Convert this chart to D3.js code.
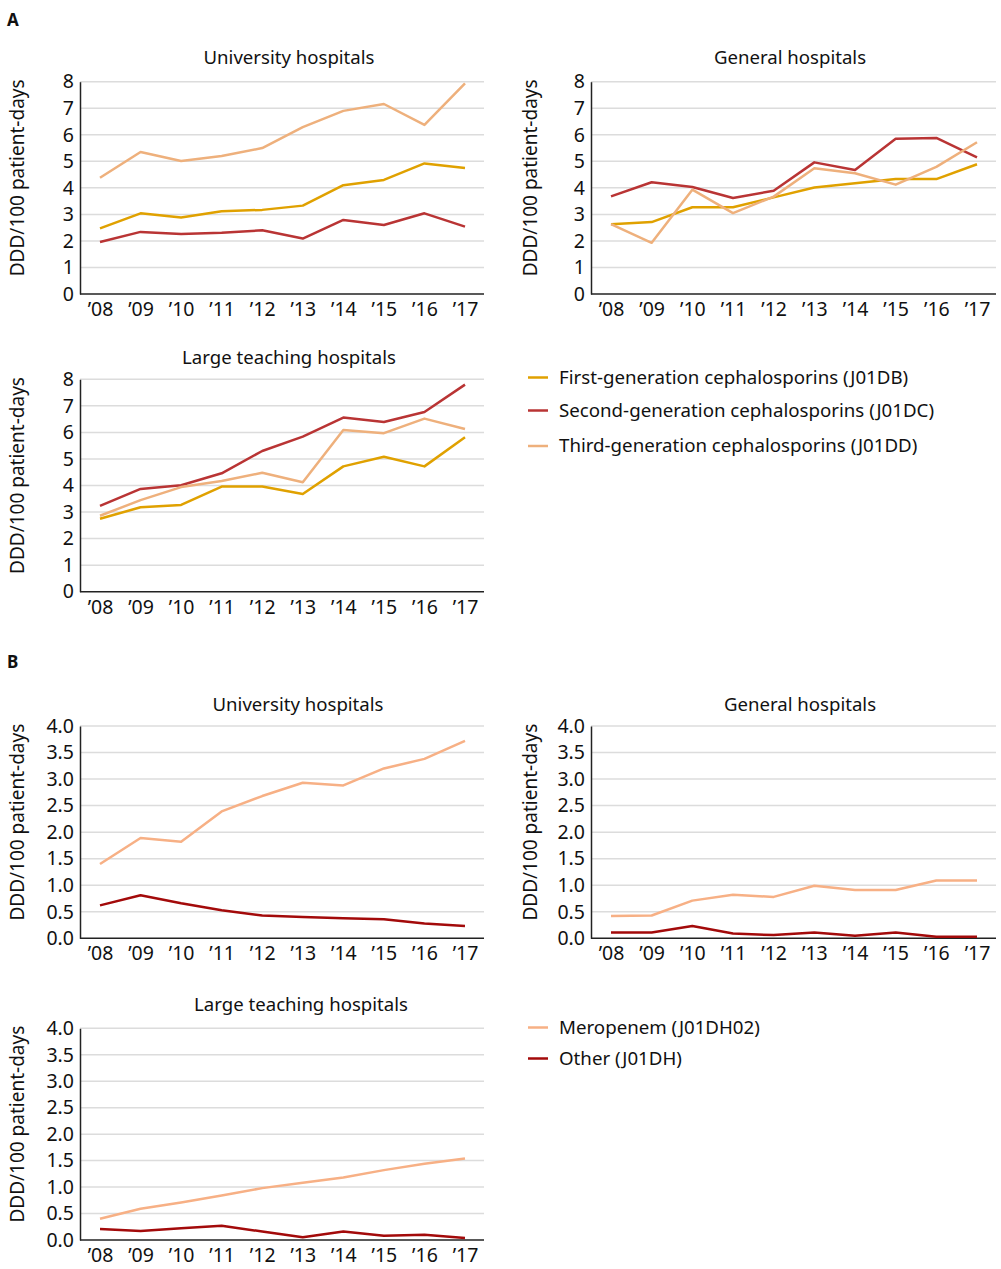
<!DOCTYPE html>
<html><head><meta charset="utf-8">
<script src="https://cdn.jsdelivr.net/npm/d3@7"></script>
<style>body{margin:0;background:#fff}svg{display:block}text{font-family:"Noto Sans",sans-serif;fill:#111}</style>
</head><body><div id="chart"></div>
<script>
const years = ["’08","’09","’10","’11","’12","’13","’14","’15","’16","’17"];
const ceph = ["First-generation cephalosporins (J01DB)","Second-generation cephalosporins (J01DC)","Third-generation cephalosporins (J01DD)"];
const carba = ["Meropenem (J01DH02)","Other (J01DH)"];
const titles = ["University hospitals","General hospitals","Large teaching hospitals"];
const yLabel = "DDD/100 patient-days";

// Section A
const aUnivFirst  = [2.47,3.04,2.88,3.12,3.17,3.33,4.10,4.30,4.92,4.75];
const aUnivSecond = [1.96,2.34,2.26,2.31,2.40,2.09,2.79,2.60,3.04,2.54];
const aUnivThird  = [4.38,5.35,5.01,5.20,5.50,6.29,6.90,7.16,6.37,7.94];
const aGenFirst   = [2.63,2.71,3.27,3.27,3.64,4.01,4.17,4.33,4.33,4.89];
const aGenSecond  = [3.68,4.21,4.03,3.62,3.89,4.96,4.67,5.85,5.88,5.15];
const aGenThird   = [2.63,1.93,3.93,3.05,3.67,4.74,4.55,4.12,4.79,5.72];
const aLargeFirst = [2.75,3.18,3.27,3.96,3.96,3.68,4.72,5.08,4.72,5.82];
const aLargeSecond= [3.23,3.87,4.01,4.46,5.30,5.84,6.56,6.39,6.77,7.80];
const aLargeThird = [2.86,3.45,3.94,4.17,4.48,4.12,6.09,5.97,6.52,6.13];
const aTicks = [0,1,2,3,4,5,6,7,8];

// Section B
const bUnivMero   = [1.40,1.89,1.82,2.39,2.68,2.93,2.88,3.20,3.38,3.72];
const bUnivOther  = [0.62,0.81,0.66,0.53,0.43,0.40,0.38,0.36,0.28,0.23];
const bGenMero    = [0.42,0.43,0.71,0.82,0.78,0.99,0.91,0.91,1.09,1.09];
const bGenOther   = [0.11,0.11,0.23,0.09,0.06,0.11,0.05,0.11,0.03,0.03];
const bLargeMero  = [0.40,0.59,0.71,0.84,0.98,1.08,1.18,1.32,1.44,1.54];
const bLargeOther = [0.21,0.17,0.22,0.27,0.16,0.05,0.16,0.08,0.10,0.04];
const bTicks = [0,0.5,1,1.5,2,2.5,3,3.5,4];

const cephColors = ["#e0a100","#b93434","#eeb07c"];
const carbaColors = ["#f7b085","#a30a0a"];

const W = 1001, H = 1269;
const svg = d3.select("#chart").append("svg").attr("width", W).attr("height", H);

const panels = [
  {title:titles[0], x0:80, x1:484, top:81.7, bot:294, tx:289, ty:64, series:[aUnivFirst,aUnivSecond,aUnivThird], colors:cephColors, ticks:aTicks, max:8, fmt:d3.format("d"), ylx:24},
  {title:titles[1], x0:591, x1:996, top:81.7, bot:294, tx:790, ty:64, series:[aGenFirst,aGenSecond,aGenThird], colors:cephColors, ticks:aTicks, max:8, fmt:d3.format("d"), ylx:537},
  {title:titles[2], x0:80, x1:484, top:379.3, bot:591.7, tx:289, ty:364, series:[aLargeFirst,aLargeSecond,aLargeThird], colors:cephColors, ticks:aTicks, max:8, fmt:d3.format("d"), ylx:24},
  {title:titles[0], x0:80, x1:484, top:726, bot:938.3, tx:298, ty:711, series:[bUnivMero,bUnivOther], colors:carbaColors, ticks:bTicks, max:4, fmt:d3.format(".1f"), ylx:24},
  {title:titles[1], x0:591, x1:996, top:726, bot:938.3, tx:800, ty:711, series:[bGenMero,bGenOther], colors:carbaColors, ticks:bTicks, max:4, fmt:d3.format(".1f"), ylx:537},
  {title:titles[2], x0:80, x1:484, top:1028.3, bot:1240, tx:301, ty:1011, series:[bLargeMero,bLargeOther], colors:carbaColors, ticks:bTicks, max:4, fmt:d3.format(".1f"), ylx:24}
];

panels.forEach(p => {
  const g = svg.append("g");
  const x = d3.scalePoint().domain(years).range([p.x0 + 20, p.x1 - 19]);
  const y = d3.scaleLinear().domain([0, p.max]).range([p.bot, p.top]);
  // gridlines
  g.selectAll("line.grid").data(p.ticks.filter(t => t > 0)).join("line")
    .attr("x1", p.x0).attr("x2", p.x1).attr("y1", d => y(d)).attr("y2", d => y(d))
    .attr("stroke", "#dcdcdc").attr("stroke-width", 1.5);
  // y axis
  const ya = g.append("g").attr("transform", `translate(${p.x0},0)`)
    .call(d3.axisLeft(y).tickValues(p.ticks).tickFormat(p.fmt).tickSize(0).tickPadding(6));
  ya.select(".domain").attr("stroke", "#222").attr("stroke-width", 1.5);
  ya.selectAll("text").attr("font-size", 19.5).attr("font-family", "Noto Sans").attr("fill", "#111");
  // x axis
  const xa = g.append("g").attr("transform", `translate(0,${p.bot})`)
    .call(d3.axisBottom(x).tickSize(0).tickPadding(8));
  xa.select(".domain").attr("d", `M${p.x0},0H${p.x1}`).attr("stroke", "#222").attr("stroke-width", 1.5);
  xa.selectAll("text").attr("font-size", 19.5).attr("font-family", "Noto Sans").attr("fill", "#111");
  // lines
  const line = d3.line().x((d, i) => x(years[i])).y(d => y(d));
  p.series.forEach((s, i) => {
    g.append("path").datum(s).attr("d", line).attr("fill", "none")
      .attr("stroke", p.colors[i]).attr("stroke-width", 2.5).attr("stroke-linejoin", "round");
  });
  // title
  g.append("text").attr("x", p.tx).attr("y", p.ty).attr("text-anchor", "middle")
    .attr("font-size", 18.6).text(p.title);
  // y label
  g.append("text").attr("transform", `translate(${p.ylx},${(p.top + p.bot) / 2 - 10}) rotate(-90)`)
    .attr("text-anchor", "middle").attr("font-size", 19).text(yLabel);
});

// Section letters
svg.append("text").attr("x", 7).attr("y", 26).attr("font-size", 17).attr("font-weight", "bold").text("A");
svg.append("text").attr("x", 7).attr("y", 668).attr("font-size", 17).attr("font-weight", "bold").text("B");

// Legends
function legend(items, colors, x, ys) {
  items.forEach((t, i) => {
    svg.append("line").attr("x1", x).attr("x2", x + 20).attr("y1", ys[i]).attr("y2", ys[i])
      .attr("stroke", colors[i]).attr("stroke-width", 2.5);
    svg.append("text").attr("x", x + 31).attr("y", ys[i] + 6).attr("font-size", 18.7).text(t);
  });
}
legend(ceph, cephColors, 528, [377.5, 410.5, 446]);
legend(carba, carbaColors, 528, [1027.5, 1058.5]);
</script></body></html>
